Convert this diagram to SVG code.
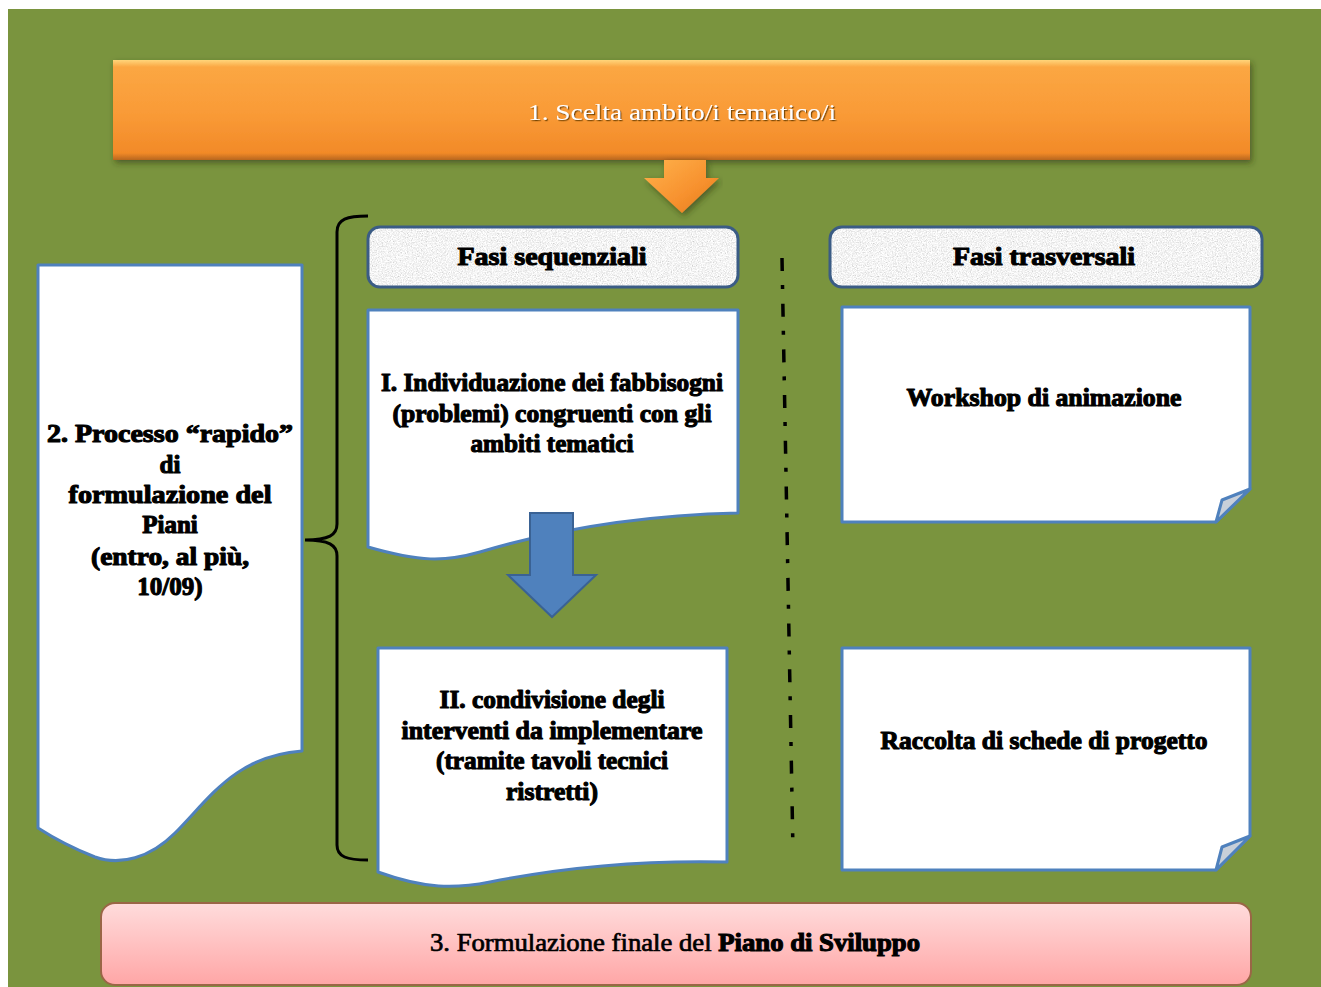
<svg xmlns="http://www.w3.org/2000/svg" width="1321" height="987" viewBox="0 0 1321 987">
  <defs>
    <style>
      .t { font-family: "Liberation Serif", "DejaVu Serif", serif; font-weight: bold; font-size: 25px; fill: #000; stroke: #000; stroke-width: 1.1; stroke-linejoin: round; text-anchor: middle; }
      .doc { fill: #ffffff; stroke: #4f81bd; stroke-width: 3; stroke-linejoin: round; }
      .hdr { fill: #e4e4e4; }
      .hdrline { fill: none; stroke: #3b5c85; stroke-width: 3; }
      .fold { fill: #c8cfd9; stroke: #4f81bd; stroke-width: 3; stroke-linejoin: round; }
    </style>
    <linearGradient id="gOrange" x1="0" y1="0" x2="0" y2="1">
      <stop offset="0" stop-color="#ffd57a"/>
      <stop offset="0.07" stop-color="#fba743"/>
      <stop offset="0.55" stop-color="#f99a36"/>
      <stop offset="0.93" stop-color="#f28a28"/>
      <stop offset="1" stop-color="#b8661e"/>
    </linearGradient>
    <linearGradient id="gArrow" x1="0" y1="0" x2="1" y2="1">
      <stop offset="0" stop-color="#ffb24c"/>
      <stop offset="0.6" stop-color="#f7912e"/>
      <stop offset="1" stop-color="#e07a1e"/>
    </linearGradient>
    <linearGradient id="gPink" x1="0" y1="0" x2="0" y2="1">
      <stop offset="0" stop-color="#ffdcdc"/>
      <stop offset="1" stop-color="#ffa6a6"/>
    </linearGradient>
    <filter id="shadow" x="-5%" y="-20%" width="110%" height="150%">
      <feDropShadow dx="2" dy="3" stdDeviation="3" flood-color="#2a3010" flood-opacity="0.55"/>
    </filter>
    <filter id="tshadow" x="-5%" y="-30%" width="110%" height="160%">
      <feDropShadow dx="1.2" dy="1.2" stdDeviation="0.6" flood-color="#6b3d05" flood-opacity="0.9"/>
    </filter>
    <filter id="noise" x="0" y="0" width="100%" height="100%">
      <feTurbulence type="fractalNoise" baseFrequency="0.8" numOctaves="3" seed="7" result="n"/>
      <feColorMatrix in="n" type="matrix" values="0.4 0.4 0.4 0 0.3  0.4 0.4 0.4 0 0.3  0.4 0.4 0.4 0 0.3  0 0 0 0 1" result="g"/>
      <feComposite in="g" in2="SourceGraphic" operator="in"/>
    </filter>
  </defs>

  <!-- background -->
  <rect x="0" y="0" width="1321" height="987" fill="#ffffff"/>
  <rect x="8" y="9" width="1313" height="978" fill="#7a943e"/>

  <!-- 1. top bar -->
  <g id="node-scelta">
    <rect x="113" y="60" width="1137" height="100" fill="url(#gOrange)" filter="url(#shadow)"/>
    <text x="682" y="120" textLength="308" lengthAdjust="spacingAndGlyphs" style="font-family:'Liberation Serif','DejaVu Serif',serif;font-size:24px;fill:#ffffff;text-anchor:middle" filter="url(#tshadow)">1. Scelta ambito/i tematico/i</text>
  </g>

  <!-- 2. left process box -->
  <g id="node-processo">
    <path class="doc" d="M38,265 H302 V751 C235,756 210,798 175,833 C150,858 120,866 95,857 C72,848 52,837 38,828 Z"/>
    <text class="t" x="170" y="442" textLength="246" lengthAdjust="spacingAndGlyphs">2. Processo “rapido”</text>
    <text class="t" x="170" y="473">di</text>
    <text class="t" x="170" y="503" textLength="203" lengthAdjust="spacingAndGlyphs">formulazione del</text>
    <text class="t" x="170" y="533">Piani</text>
    <text class="t" x="170" y="565" textLength="158" lengthAdjust="spacingAndGlyphs">(entro, al più,</text>
    <text class="t" x="170" y="595">10/09)</text>
  </g>

  <!-- header sequential -->
  <g id="node-fasi-sequenziali">
    <rect class="hdr" x="368" y="227" width="370" height="60" rx="12" filter="url(#noise)"/>
    <rect class="hdrline" x="368" y="227" width="370" height="60" rx="12"/>
    <text class="t" x="552" y="265" textLength="189" lengthAdjust="spacingAndGlyphs">Fasi sequenziali</text>
  </g>

  <!-- header transversal -->
  <g id="node-fasi-trasversali">
    <rect class="hdr" x="830" y="227" width="432" height="60" rx="12" filter="url(#noise)"/>
    <rect class="hdrline" x="830" y="227" width="432" height="60" rx="12"/>
    <text class="t" x="1044" y="265" textLength="182" lengthAdjust="spacingAndGlyphs">Fasi trasversali</text>
  </g>

  <!-- step I -->
  <g id="node-step1">
    <path class="doc" d="M368,310 H738 V513 C650,515 560,528 480,552 C445,562 420,562 368,547 Z"/>
    <text class="t" x="552" y="391" textLength="342" lengthAdjust="spacingAndGlyphs">I. Individuazione dei fabbisogni</text>
    <text class="t" x="552" y="422" textLength="319" lengthAdjust="spacingAndGlyphs">(problemi) congruenti con gli</text>
    <text class="t" x="552" y="452" textLength="163" lengthAdjust="spacingAndGlyphs">ambiti tematici</text>
  </g>

  <!-- step II -->
  <g id="node-step2">
    <path class="doc" d="M378,648 H727 V862 C640,860 560,868 490,882 C455,889 425,889 378,872 Z"/>
    <text class="t" x="552" y="708" textLength="225" lengthAdjust="spacingAndGlyphs">II. condivisione degli</text>
    <text class="t" x="552" y="739" textLength="301" lengthAdjust="spacingAndGlyphs">interventi da implementare</text>
    <text class="t" x="552" y="769" textLength="232" lengthAdjust="spacingAndGlyphs">(tramite tavoli tecnici</text>
    <text class="t" x="552" y="800" textLength="92" lengthAdjust="spacingAndGlyphs">ristretti)</text>
  </g>

  <!-- workshop -->
  <g id="node-workshop">
    <path class="doc" d="M842,307 H1250 V489 L1216,522 H842 Z"/>
    <path class="fold" d="M1250,489 L1222,500 L1216,522 Z"/>
    <text class="t" x="1044" y="406" textLength="275" lengthAdjust="spacingAndGlyphs">Workshop di animazione</text>
  </g>

  <!-- raccolta -->
  <g id="node-raccolta">
    <path class="doc" d="M842,648 H1250 V836 L1216,870 H842 Z"/>
    <path class="fold" d="M1250,836 L1222,847 L1216,870 Z"/>
    <text class="t" x="1044" y="749" textLength="327" lengthAdjust="spacingAndGlyphs">Raccolta di schede di progetto</text>
  </g>

  <!-- 3. final -->
  <g id="node-finale">
    <rect x="101" y="903" width="1150" height="82" rx="14" fill="url(#gPink)" stroke="#9a6646" stroke-width="2"/>
    <text x="675" y="951" textLength="490" lengthAdjust="spacingAndGlyphs" style="font-family:'Liberation Serif','DejaVu Serif',serif;font-size:25px;fill:#000;stroke:#000;stroke-width:0.7;text-anchor:middle">3. Formulazione finale del <tspan style="font-weight:bold;stroke-width:1.1">Piano di Sviluppo</tspan></text>
  </g>

  <!-- connectors -->
  <g id="connectors">
    <path id="arrow-orange" d="M664,160 H706 V178 H719 L682,213 L644,178 H664 Z" fill="url(#gArrow)" filter="url(#shadow)"/>
    <path id="arrow-blue" d="M530,513 H573 V575 H596 L552,617 L508,575 H530 Z" fill="#4f81bd" stroke="#3a6294" stroke-width="2" stroke-linejoin="miter"/>
    <path id="brace" d="M368,216 C347,216 337,219 337,232 L337,524 C337,535 329,540 305,540 C329,540 337,545 337,556 L337,845 C337,857 347,860 368,860" fill="none" stroke="#000" stroke-width="3"/>
    <line id="divider" x1="782" y1="258" x2="793" y2="852" stroke="#000" stroke-width="3.5" stroke-dasharray="13 14 4 14.7"/>
  </g>
</svg>
